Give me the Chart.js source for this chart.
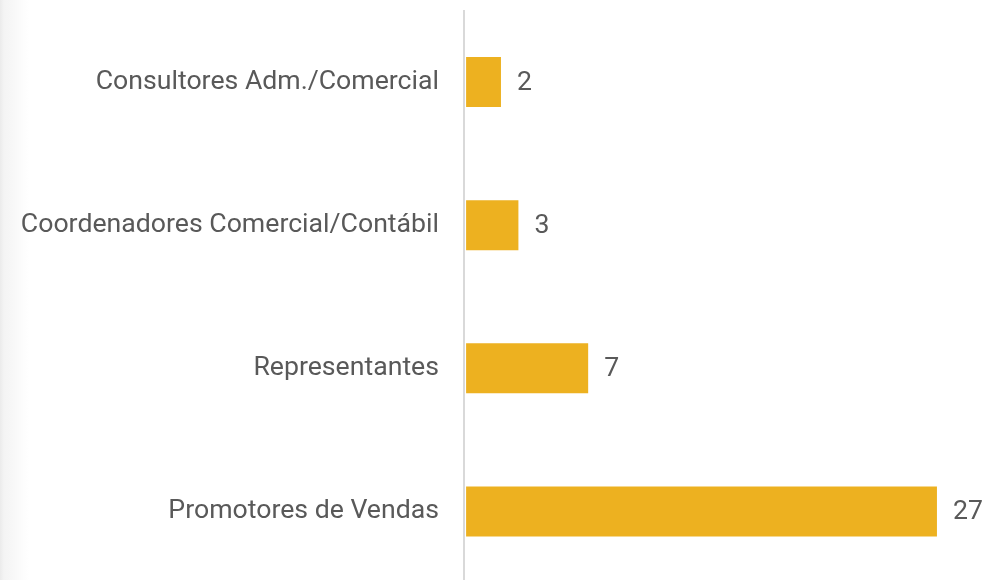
<!DOCTYPE html>
<html>
<head>
<meta charset="utf-8">
<script src="https://cdn.jsdelivr.net/npm/chart.js@4"></script>
<style>
  html, body { margin: 0; padding: 0; overflow: hidden; }
  body {
    width: 987px; height: 580px;
    background: linear-gradient(to right, #ebebeb 0px, #f4f4f4 4px, #f8f8f8 14px, #fdfdfd 24px, #ffffff 30px);
  }
  #wrap { position: relative; width: 987px; height: 583px; }
</style>
</head>
<body>
<div id="wrap"><canvas id="grafico"></canvas></div>
<script>
// datos
const categorias = ["Consultores Adm./Comercial", "Coordenadores Comercial/Contábil", "Representantes", "Promotores de Vendas"];
const valores = [2, 3, 7, 27];

const etiquetasValor = {
  id: 'etiquetasValor',
  afterDatasetsDraw(chart) {
    const ctx = chart.ctx;
    const meta = chart.getDatasetMeta(0);
    ctx.save();
    ctx.font = '26.67px Roboto';
    ctx.fillStyle = '#595959';
    ctx.textAlign = 'left';
    ctx.textBaseline = 'middle';
    meta.data.forEach((bar, i) => {
      ctx.fillText(String(valores[i]), bar.x + 16, bar.y + 1);
    });
    ctx.restore();
  }
};

const ctx = document.getElementById("grafico").getContext("2d");
new Chart(ctx, {
  type: 'bar',
  data: {
    labels: categorias,
    datasets: [{
      data: valores,
      backgroundColor: '#edb120',
      borderWidth: 0,
      barPercentage: 0.35,
      categoryPercentage: 1.0
    }]
  },
  options: {
    indexAxis: 'y',
    responsive: true,
    maintainAspectRatio: false,
    animation: false,
    layout: { autoPadding: false, padding: { top: 10.5, right: 0, bottom: 0, left: 0 } },
    plugins: { legend: { display: false }, tooltip: { enabled: false } },
    scales: {
      x: {
        // pequeño margen para que la barra no tape la línea del eje
        min: -0.12, max: 29.87,
        display: false
      },
      y: {
        afterFit(scale) {
          scale.width = 464;
          scale.paddingTop = 0;
          scale.paddingBottom = 0;
        },
        grid: { display: false, drawTicks: false, tickLength: 0 },
        border: { display: true, color: '#d9d9d9', width: 2 },
        ticks: { color: '#595959', font: { family: 'Roboto', size: 26.67 }, padding: 25 }
      }
    }
  },
  plugins: [etiquetasValor]
});
</script>
</body>
</html>
